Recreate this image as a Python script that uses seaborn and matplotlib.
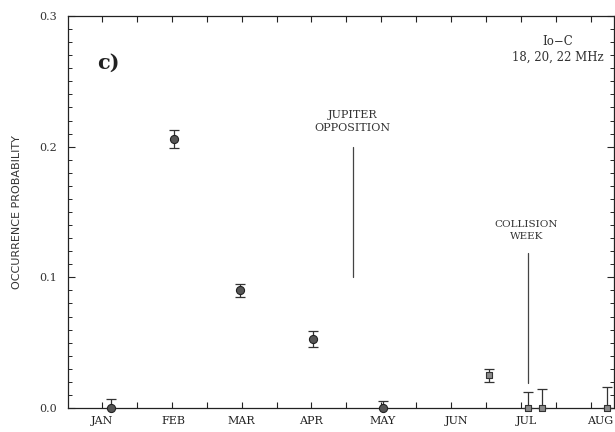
import matplotlib
matplotlib.use("Agg")
import matplotlib.pyplot as plt
import seaborn as sns
import numpy as np
import pandas as pd

# ---- data (x in months since January) ----
circle_x = [0.13, 1.03, 1.98, 3.02, 4.03]
circle_y = [0.0, 0.206, 0.090, 0.053, 0.0]
circle_err_lo = [0.0, 0.007, 0.005, 0.006, 0.0]
circle_err_hi = [0.007, 0.007, 0.005, 0.006, 0.005]

square_x = [5.54, 6.10, 6.30, 7.23]
square_y = [0.025, 0.0, 0.0, 0.0]
square_err_lo = [0.005, 0.0, 0.0, 0.0]
square_err_hi = [0.005, 0.0125, 0.0143, 0.0158]

month_labels = ["JAN", "FEB", "MAR", "APR", "MAY", "JUN", "JUL", "AUG"]
month_label_pos = [0.0, 1.02, 2.0, 3.0, 4.02, 5.08, 6.08, 7.13]

sns.set_theme(style="white")
plt.rcParams['font.family'] = ['DejaVu Serif']

fig = plt.figure(figsize=(6.15, 4.32), dpi=100)
ax = fig.add_axes([68/615, 1-408/432, (614-68)/615, (408-16)/432])

df_c = pd.DataFrame({"x": circle_x, "y": circle_y})
df_s = pd.DataFrame({"x": square_x, "y": square_y})

ax.errorbar(circle_x, circle_y, yerr=[circle_err_lo, circle_err_hi], fmt="none",
            ecolor="#333333", elinewidth=0.9, capsize=3.5, capthick=0.9, clip_on=False, zorder=3)
ax.errorbar(square_x, square_y, yerr=[square_err_lo, square_err_hi], fmt="none",
            ecolor="#333333", elinewidth=0.9, capsize=3.5, capthick=0.9, clip_on=False, zorder=3)

sns.scatterplot(data=df_c, x="x", y="y", ax=ax, marker="o", s=34, color="#555555",
                edgecolor="#222222", linewidth=0.8, clip_on=False, zorder=4)
sns.scatterplot(data=df_s, x="x", y="y", ax=ax, marker="s", s=22, color="#8a8a8a",
                edgecolor="#333333", linewidth=0.8, clip_on=False, zorder=4)

ax.set_xlim(-0.487, 7.335)
ax.set_ylim(0.0, 0.3)

# ticks
ax.xaxis.remove_overlapping_locs = False
ax.set_xticks(np.arange(0, 7.01, 0.5))
ax.set_xticklabels([])
ax.set_xticks(month_label_pos, month_labels, minor=True)
ax.tick_params(axis="x", which="major", direction="in", length=4, width=0.8,
               top=True, bottom=True, colors="#222222")
ax.tick_params(axis="x", which="minor", length=0, pad=6, labelsize=8, labelcolor="#222222")

ax.set_yticks([0.0, 0.1, 0.2, 0.3], ["0.0", "0.1", "0.2", "0.3"])
ax.set_yticks(np.arange(0, 0.301, 0.01), minor=True)
ax.tick_params(axis="y", which="major", direction="in", length=5, width=0.8,
               left=True, right=True, labelsize=8, labelcolor="#333333", pad=8)
ax.tick_params(axis="y", which="minor", direction="in", length=3, width=0.7,
               left=True, right=True)

for sp in ax.spines.values():
    sp.set_color("#222222")
    sp.set_linewidth(0.9)

ax.set_xlabel("")
ax.set_ylabel("OCCURRENCE PROBABILITY", fontsize=8, family="DejaVu Sans",
              color="#333333", labelpad=12)

# annotations
ax.text(0.09, 0.264, "c)", fontsize=15, fontweight="bold", ha="center", va="center",
        color="#222222")
ax.text(6.53, 0.2744, "Io\u2212C\n18, 20, 22 MHz", fontsize=8.5, ha="center", va="center",
        color="#333333", linespacing=1.3)
ax.text(3.59, 0.219, "JUPITER\nOPPOSITION", fontsize=8, ha="center", va="center",
        color="#333333", linespacing=1.4)
ax.plot([3.595, 3.595], [0.1, 0.2], color="#444444", lw=0.9)
ax.text(6.08, 0.136, "COLLISION\nWEEK", fontsize=7.5, ha="center", va="center",
        color="#333333", linespacing=1.5)
ax.plot([6.11, 6.11], [0.019, 0.119], color="#444444", lw=0.9)

fig.savefig("out.png", dpi=100)
